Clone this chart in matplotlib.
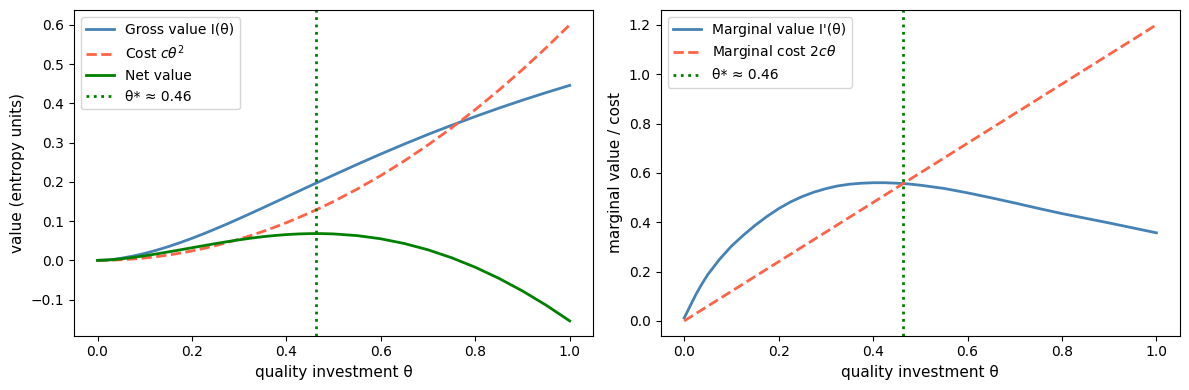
import matplotlib
matplotlib.use("Agg")
import matplotlib.pyplot as plt

theta = [0.0, 0.0125, 0.025, 0.0375, 0.05, 0.075, 0.10, 0.125, 0.15, 0.175, 0.20,
         0.225, 0.25, 0.275, 0.30, 0.325, 0.35, 0.375, 0.40, 0.425, 0.45, 0.475,
         0.50, 0.55, 0.60, 0.65, 0.70, 0.75, 0.80, 0.85, 0.90, 0.95, 1.00]

gross_value = [0.0, 0.0005, 0.0015, 0.0031, 0.0053, 0.0108, 0.0177, 0.0258, 0.0350,
               0.0451, 0.0561, 0.0678, 0.0802, 0.0930, 0.1063, 0.1199, 0.1337, 0.1476,
               0.1616, 0.1756, 0.1896, 0.2035, 0.2173, 0.2445, 0.2709, 0.2963, 0.3208,
               0.3441, 0.3664, 0.3877, 0.4080, 0.4273, 0.4457]

cost = [0.0, 0.0001, 0.0004, 0.0008, 0.0015, 0.0034, 0.006, 0.0094, 0.0135, 0.0184,
        0.024, 0.0304, 0.0375, 0.0454, 0.054, 0.0634, 0.0735, 0.0844, 0.096, 0.1084,
        0.1215, 0.1354, 0.15, 0.1815, 0.216, 0.2535, 0.294, 0.3375, 0.384, 0.4335,
        0.486, 0.5415, 0.6]

net_value = [0.0, 0.0004, 0.0011, 0.0023, 0.0038, 0.0074, 0.0117, 0.0164, 0.0215,
             0.0267, 0.0321, 0.0374, 0.0427, 0.0476, 0.0523, 0.0565, 0.0602, 0.0632,
             0.0656, 0.0672, 0.0681, 0.0681, 0.0673, 0.0630, 0.0549, 0.0428, 0.0268,
             0.0066, -0.0176, -0.0458, -0.0780, -0.1142, -0.1543]

marginal_value = [0.012, 0.060, 0.108, 0.150, 0.188, 0.250, 0.303, 0.347, 0.387, 0.423,
                  0.455, 0.482, 0.504, 0.522, 0.536, 0.547, 0.554, 0.558, 0.560, 0.560,
                  0.558, 0.555, 0.550, 0.537, 0.519, 0.499, 0.478, 0.456, 0.435, 0.416,
                  0.397, 0.377, 0.357]

marginal_cost = [0.0, 0.015, 0.03, 0.045, 0.06, 0.09, 0.12, 0.15, 0.18, 0.21, 0.24,
                 0.27, 0.30, 0.33, 0.36, 0.39, 0.42, 0.45, 0.48, 0.51, 0.54, 0.57,
                 0.60, 0.66, 0.72, 0.78, 0.84, 0.90, 0.96, 1.02, 1.08, 1.14, 1.20]

theta_star = 0.463
theta_star_label = "θ* ≈ 0.46"

fig, (ax1, ax2) = plt.subplots(1, 2, figsize=(12, 4), dpi=100)

ax1.plot(theta, gross_value, color="steelblue", lw=2, label="Gross value I(θ)")
ax1.plot(theta, cost, color="tomato", lw=2, ls="--", label=r"Cost $c\theta^2$")
ax1.plot(theta, net_value, color="green", lw=2, label="Net value")
ax1.axvline(theta_star, color="green", lw=2, ls=":", label=theta_star_label)
ax1.set_xlabel("quality investment θ", fontsize=11)
ax1.set_ylabel("value (entropy units)", fontsize=11)
ax1.legend(loc="upper left")

ax2.plot(theta, marginal_value, color="steelblue", lw=2, label="Marginal value I'(θ)")
ax2.plot(theta, marginal_cost, color="tomato", lw=2, ls="--", label=r"Marginal cost $2c\theta$")
ax2.axvline(theta_star, color="green", lw=2, ls=":", label=theta_star_label)
ax2.set_xlabel("quality investment θ", fontsize=11)
ax2.set_ylabel("marginal value / cost", fontsize=11)
ax2.legend(loc="upper left")

fig.tight_layout()
fig.savefig("out.png", dpi=100, bbox_inches="tight")
